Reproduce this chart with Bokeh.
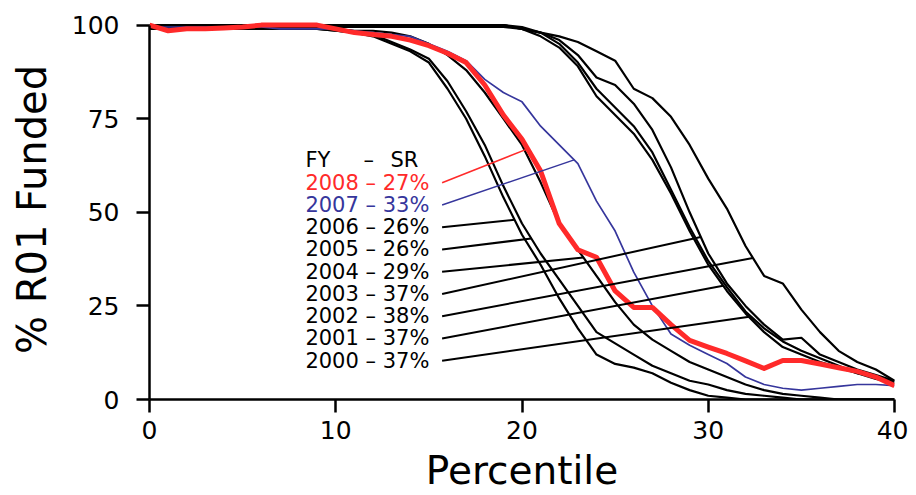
import numpy as np
from bokeh.plotting import figure
from bokeh.models import Range1d, FixedTicker, ColumnDataSource
from bokeh.core.properties import value
from bokeh.embed import file_html
from bokeh.resources import INLINE

# ---------------- data ----------------
percentile = list(range(41))

fy2008 = [100, 98.5, 99, 99, 99.2, 99.5, 100, 100, 100, 100, 99, 98, 97.5, 97, 96, 94.5, 92.5, 90, 84, 76,
          69.5, 61, 47, 40, 38, 29, 24.6, 24.6, 20, 15.8, 14, 12.3, 10.3, 8.3, 10.4, 10.4, 9.5, 8.5, 7.5, 6, 3.7]
fy2007 = [99.5, 99.5, 99.5, 99.5, 99.5, 99.5, 99.5, 99, 99, 99, 99, 98.5, 98, 97.5, 97, 95, 93, 90.5, 85.5, 82,
          79.5, 73, 68, 63, 53, 45, 34, 25, 17.5, 14.5, 12, 9.6, 6, 4, 3, 2.5, 3, 3.5, 4, 4, 3.7]
fy2006 = [99, 99, 99, 99, 99, 99, 99, 99, 99, 99, 98.5, 98, 97, 95, 93, 90, 83, 75, 65, 54,
          44, 36, 27, 19, 12, 9.5, 8.5, 7, 4.5, 2.5, 1, 0.5, 0, 0, 0, 0, 0, 0, 0, 0, 0]
fy2005 = [99, 99, 99, 99, 99, 99, 99, 99, 99, 99, 98.5, 98, 97.5, 95.5, 93.5, 91, 85, 77, 68, 57,
          47, 39, 32, 25, 18, 15, 12, 9, 7, 5, 4, 2.5, 1.5, 1, 0.5, 0, 0, 0, 0, 0, 0]
fy2004 = [99.5, 99.5, 99.5, 99.5, 99.5, 99.5, 99.5, 99.5, 99.5, 99.5, 99, 98.5, 98.5, 98, 97, 95, 92, 88, 82, 75,
          68, 58, 47, 40, 33, 26, 20, 16, 13, 10, 8, 6, 4, 2.5, 1.5, 1, 0.5, 0, 0, 0, 0]
fy2003 = [100] * 20 + [99, 98, 96, 92, 86, 84, 79, 72, 62, 50, 39, 31, 25, 20, 16, 16.5, 12, 10, 8, 6.5, 5]
fy2002 = [99.5] * 20 + [99, 98, 97, 95.5, 93, 90.5, 83, 80.5, 75.5, 68, 59, 51, 41, 33, 31, 24, 18, 13, 10, 8, 5]
fy2001 = [100] * 20 + [99, 97, 94, 89, 81, 76, 71, 64, 55, 45, 36, 29, 23, 18, 14, 12, 10, 8.5, 7, 6, 5]
fy2000 = [100] * 20 + [99.5, 98, 95, 90, 83, 78, 73, 66, 56, 46, 37, 30, 23.5, 19, 15.5, 13, 11, 9, 7, 5.5, 4.5]

years = ["2008", "2007", "2006", "2005", "2004", "2003", "2002", "2001", "2000"]
success_rate = ["27%", "33%", "26%", "26%", "29%", "37%", "38%", "37%", "37%"]
x_ticks = [0, 10, 20, 30, 40]
y_ticks = [0, 25, 50, 75, 100]

series = [fy2008, fy2007, fy2006, fy2005, fy2004, fy2003, fy2002, fy2001, fy2000]

# ---------------- style ----------------
RED = "#ff2a2a"
BLUE = "#36369c"
BLACK = "#000000"
colors = [RED, BLUE] + [BLACK] * 7
widths = [5, 1.7] + [2.2] * 7
FONT = "DejaVu Sans"
leader_target_x = [20.3, 22.8, 19.6, 20.5, 23.3, 29.6, 32.4, 30.8, 32.3]

p = figure(width=908, height=495, x_range=Range1d(0, 40), y_range=Range1d(0, 101.5),
           output_backend="svg", toolbar_location=None,
           min_border_left=149, min_border_right=14, min_border_top=19, min_border_bottom=96)
p.outline_line_color = None
p.grid.visible = False
p.background_fill_color = "white"
p.border_fill_color = "white"

# curves: black first, then blue, then red on top
for i in range(len(series) - 1, -1, -1):
    p.line(percentile, series[i], line_color=colors[i], line_width=widths[i], line_join="round")

# legend text and leader lines
row_y0 = 57.9
row_dy = 5.94
text_x = 8.37
leader_x0 = 15.71
rows_y = [row_y0 - k * row_dy for k in range(len(years))]
labels = [f"{y} \u2013 {s}" for y, s in zip(years, success_rate)]
x1 = [lx for lx in leader_target_x]
y1 = [float(np.interp(lx, percentile, s)) for lx, s in zip(leader_target_x, series)]

leader_src = ColumnDataSource(dict(x0=[leader_x0] * len(years), y0=rows_y, x1=x1, y1=y1,
                                   c=colors, w=[1.5, 1.5] + [2] * 7))
p.segment(x0="x0", y0="y0", x1="x1", y1="y1", line_color="c", line_width="w", source=leader_src)

txt_src = ColumnDataSource(dict(x=[text_x] * len(years), y=rows_y, t=labels, c=colors))
p.text(x="x", y="y", text="t", text_color="c", source=txt_src, text_font=value(FONT),
       text_font_size=value("21px"), text_align="left", text_baseline="middle")

hdr_y = row_y0 + row_dy
hdr_src = ColumnDataSource(dict(x=[text_x, (363 - 149) / 18.63, (390 - 149) / 18.63],
                                y=[hdr_y] * 3, t=["FY", "\u2013", "SR"]))
p.text(x="x", y="y", text="t", text_color=BLACK, source=hdr_src, text_font=value(FONT),
       text_font_size=value("21px"), text_align="left", text_baseline="middle")

# axes
p.xaxis.bounds = (0, 40)
p.yaxis.bounds = (0, 100)
p.xaxis.ticker = FixedTicker(ticks=x_ticks)
p.yaxis.ticker = FixedTicker(ticks=y_ticks)
p.xaxis.axis_label = "Percentile"
p.yaxis.axis_label = "% R01 Funded"
for ax in (p.xaxis, p.yaxis):
    ax.axis_line_width = 2.5
    ax.axis_line_color = BLACK
    ax.major_tick_line_width = 2.5
    ax.major_tick_line_color = BLACK
    ax.major_tick_in = 0
    ax.major_tick_out = 13
    ax.minor_tick_line_color = None
    ax.major_label_text_font = FONT
    ax.major_label_text_font_size = "25px"
    ax.major_label_text_color = BLACK
    ax.axis_label_text_font = FONT
    ax.axis_label_text_font_style = "normal"
    ax.axis_label_text_color = BLACK
p.xaxis.axis_label_text_font_size = "39px"
p.yaxis.axis_label_text_font_size = "40px"
p.xaxis.major_label_standoff = 8
p.xaxis.axis_label_standoff = 6
p.yaxis.major_label_standoff = 17
p.yaxis.axis_label_standoff = 14

open("out.html", "w").write(file_html(p, INLINE))
